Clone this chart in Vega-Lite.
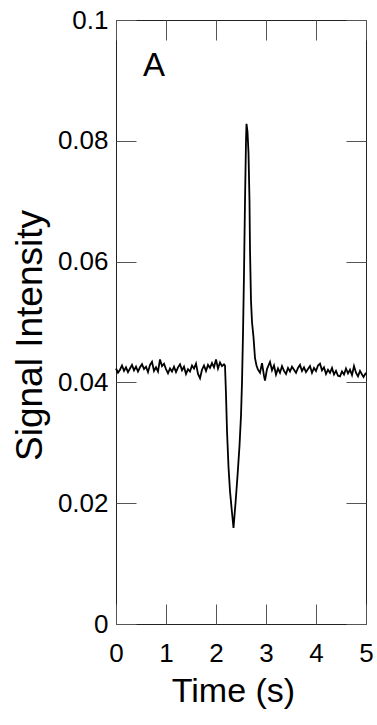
{
  "$schema": "https://vega.github.io/schema/vega-lite/v6.json",
  "width": 250,
  "height": 604,
  "autosize": {"type": "none"},
  "padding": {"left": 116, "top": 20, "right": 11, "bottom": 101},
  "background": "white",
  "config": {
    "view": {"stroke": "#222", "strokeWidth": 1},
    "font": "Liberation Sans",
    "axis": {
      "labelFont": "Liberation Sans",
      "titleFont": "Liberation Sans",
      "labelFontSize": 26,
      "titleFontSize": 34,
      "labelColor": "black",
      "titleColor": "black",
      "titleFontWeight": "normal",
      "tickColor": "#555",
      "tickSize": -20,
      "tickWidth": 1,
      "labelFlush": false,
      "labelOverlap": false,
      "domain": false,
      "grid": false
    }
  },
  "datasets": {
    "trace": [
      {"t": 0.00, "v": 0.0423}, {"t": 0.04, "v": 0.0416}, {"t": 0.08, "v": 0.0421}, {"t": 0.12, "v": 0.0428},
      {"t": 0.16, "v": 0.0419}, {"t": 0.20, "v": 0.0425}, {"t": 0.24, "v": 0.0417}, {"t": 0.28, "v": 0.0423},
      {"t": 0.32, "v": 0.0429}, {"t": 0.36, "v": 0.0420}, {"t": 0.40, "v": 0.0426}, {"t": 0.44, "v": 0.0418},
      {"t": 0.48, "v": 0.0425}, {"t": 0.52, "v": 0.0430}, {"t": 0.56, "v": 0.0422}, {"t": 0.60, "v": 0.0426},
      {"t": 0.64, "v": 0.0417}, {"t": 0.68, "v": 0.0429}, {"t": 0.72, "v": 0.0434}, {"t": 0.76, "v": 0.0419},
      {"t": 0.80, "v": 0.0425}, {"t": 0.84, "v": 0.0418}, {"t": 0.88, "v": 0.0438}, {"t": 0.92, "v": 0.0427},
      {"t": 0.96, "v": 0.0431}, {"t": 1.00, "v": 0.0422}, {"t": 1.04, "v": 0.0415}, {"t": 1.08, "v": 0.0423},
      {"t": 1.12, "v": 0.0418}, {"t": 1.16, "v": 0.0426}, {"t": 1.20, "v": 0.0417}, {"t": 1.24, "v": 0.0425},
      {"t": 1.28, "v": 0.0430}, {"t": 1.32, "v": 0.0420}, {"t": 1.36, "v": 0.0426}, {"t": 1.40, "v": 0.0414},
      {"t": 1.44, "v": 0.0422}, {"t": 1.48, "v": 0.0418}, {"t": 1.52, "v": 0.0428}, {"t": 1.56, "v": 0.0423},
      {"t": 1.60, "v": 0.0431}, {"t": 1.64, "v": 0.0414}, {"t": 1.68, "v": 0.0407}, {"t": 1.72, "v": 0.0421},
      {"t": 1.76, "v": 0.0428}, {"t": 1.80, "v": 0.0419}, {"t": 1.84, "v": 0.0429}, {"t": 1.88, "v": 0.0424},
      {"t": 1.92, "v": 0.0432}, {"t": 1.96, "v": 0.0425}, {"t": 2.00, "v": 0.0438}, {"t": 2.04, "v": 0.0423},
      {"t": 2.08, "v": 0.0433}, {"t": 2.12, "v": 0.0427}, {"t": 2.16, "v": 0.0430}, {"t": 2.18, "v": 0.0428},
      {"t": 2.20, "v": 0.0380}, {"t": 2.22, "v": 0.0320}, {"t": 2.25, "v": 0.0260}, {"t": 2.28, "v": 0.0220},
      {"t": 2.31, "v": 0.0193}, {"t": 2.35, "v": 0.0159}, {"t": 2.39, "v": 0.0200}, {"t": 2.43, "v": 0.0245},
      {"t": 2.47, "v": 0.0295}, {"t": 2.50, "v": 0.0345}, {"t": 2.52, "v": 0.0400}, {"t": 2.54, "v": 0.0480},
      {"t": 2.56, "v": 0.0580}, {"t": 2.58, "v": 0.0700}, {"t": 2.60, "v": 0.0800}, {"t": 2.61, "v": 0.0828},
      {"t": 2.63, "v": 0.0815}, {"t": 2.65, "v": 0.0780}, {"t": 2.67, "v": 0.0700}, {"t": 2.68, "v": 0.0620},
      {"t": 2.70, "v": 0.0535}, {"t": 2.72, "v": 0.0500}, {"t": 2.75, "v": 0.0475}, {"t": 2.78, "v": 0.0440},
      {"t": 2.81, "v": 0.0428}, {"t": 2.84, "v": 0.0421}, {"t": 2.88, "v": 0.0416}, {"t": 2.92, "v": 0.0432},
      {"t": 2.96, "v": 0.0411}, {"t": 2.98, "v": 0.0403}, {"t": 3.02, "v": 0.0422}, {"t": 3.06, "v": 0.0430},
      {"t": 3.08, "v": 0.0434}, {"t": 3.12, "v": 0.0420}, {"t": 3.16, "v": 0.0428}, {"t": 3.20, "v": 0.0413},
      {"t": 3.24, "v": 0.0423}, {"t": 3.28, "v": 0.0416}, {"t": 3.32, "v": 0.0427}, {"t": 3.36, "v": 0.0419},
      {"t": 3.40, "v": 0.0414}, {"t": 3.44, "v": 0.0424}, {"t": 3.48, "v": 0.0418}, {"t": 3.52, "v": 0.0426},
      {"t": 3.56, "v": 0.0421}, {"t": 3.60, "v": 0.0416}, {"t": 3.64, "v": 0.0424}, {"t": 3.68, "v": 0.0429},
      {"t": 3.72, "v": 0.0419}, {"t": 3.76, "v": 0.0425}, {"t": 3.80, "v": 0.0417}, {"t": 3.84, "v": 0.0422},
      {"t": 3.88, "v": 0.0427}, {"t": 3.92, "v": 0.0416}, {"t": 3.96, "v": 0.0424}, {"t": 4.00, "v": 0.0419},
      {"t": 4.04, "v": 0.0428}, {"t": 4.08, "v": 0.0431}, {"t": 4.12, "v": 0.0420}, {"t": 4.16, "v": 0.0425},
      {"t": 4.20, "v": 0.0414}, {"t": 4.24, "v": 0.0421}, {"t": 4.28, "v": 0.0416}, {"t": 4.32, "v": 0.0424},
      {"t": 4.36, "v": 0.0413}, {"t": 4.40, "v": 0.0419}, {"t": 4.44, "v": 0.0411}, {"t": 4.48, "v": 0.0410},
      {"t": 4.52, "v": 0.0418}, {"t": 4.56, "v": 0.0413}, {"t": 4.60, "v": 0.0423}, {"t": 4.64, "v": 0.0415},
      {"t": 4.68, "v": 0.0421}, {"t": 4.72, "v": 0.0412}, {"t": 4.76, "v": 0.0427}, {"t": 4.80, "v": 0.0416},
      {"t": 4.84, "v": 0.0410}, {"t": 4.88, "v": 0.0419}, {"t": 4.92, "v": 0.0413}, {"t": 4.95, "v": 0.0409},
      {"t": 5.00, "v": 0.0416}
    ],
    "note": [{"t": 0.76, "v": 0.0907, "label": "A"}]
  },
  "layer": [
    {
      "data": {"name": "trace"},
      "mark": {"type": "line", "color": "black", "strokeWidth": 1.8, "interpolate": "linear"},
      "encoding": {
        "x": {
          "field": "t", "type": "quantitative",
          "scale": {"domain": [0, 5], "nice": false, "zero": false},
          "axis": {"orient": "bottom", "values": [0, 1, 2, 3, 4, 5], "title": "Time (s)", "labelPadding": 36, "titlePadding": 8, "titleX": 117, "format": "d"}
        },
        "y": {
          "field": "v", "type": "quantitative",
          "scale": {"domain": [0, 0.1], "nice": false, "zero": false},
          "axis": {"orient": "left", "values": [0, 0.02, 0.04, 0.06, 0.08, 0.1], "title": "Signal Intensity", "titleFontSize": 37, "titleY": 315, "labelPadding": 28, "titlePadding": 8, "labelExpr": "datum.value == 0 ? '0' : datum.value == 0.1 ? '0.1' : format(datum.value, '.2f')"}
        }
      }
    },
    {
      "data": {"name": "note"},
      "mark": {"type": "text", "font": "Liberation Sans", "fontSize": 33, "align": "center", "baseline": "alphabetic", "color": "black"},
      "encoding": {
        "x": {"field": "t", "type": "quantitative", "axis": {"orient": "top", "values": [0, 1, 2, 3, 4, 5], "labels": false, "title": null}},
        "y": {"field": "v", "type": "quantitative", "axis": {"orient": "right", "values": [0, 0.02, 0.04, 0.06, 0.08, 0.1], "labels": false, "title": null}},
        "text": {"field": "label"}
      }
    }
  ],
  "resolve": {"axis": {"x": "independent", "y": "independent"}}
}
